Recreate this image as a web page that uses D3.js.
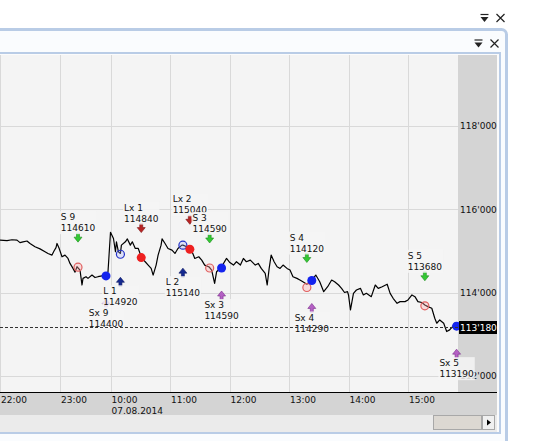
<!DOCTYPE html>
<html>
<head>
<meta charset="utf-8">
<script src="https://cdn.jsdelivr.net/npm/d3@7"></script>
<style>
  body { margin: 0; background: #fff; }
  svg { display: block; font-family: "DejaVu Sans", Verdana, sans-serif; font-size: 9px; }
</style>
</head>
<body>
<svg id="chart" width="539" height="441"></svg>
<script>
const priceTimes = [
  "22:00", "22:07", "22:12", "22:17", "22:20", "22:23", "22:27", "22:30", "22:35", "22:40",
  "22:45", "22:48", "22:52", "22:54", "22:56", "22:57", "22:59", "23:02", "23:05", "23:08",
  "23:10", "23:13", "23:15", "23:17", "23:20", "23:22", "23:23", "23:26", "23:28", "23:32",
  "23:35", "23:38", "23:42", "23:46", "23:48",
  "10:00", "10:03", "10:05", "10:06", "10:08", "10:10", "10:11", "10:15", "10:17", "10:20",
  "10:22", "10:25", "10:28", "10:31", "10:35", "10:38", "10:41", "10:43", "10:46", "10:48",
  "10:51", "10:52", "10:55", "10:58", "11:02", "11:05", "11:08", "11:12", "11:13", "11:17",
  "11:20", "11:23", "11:25", "11:29", "11:32", "11:35", "11:39", "11:40", "11:42", "11:45",
  "11:47", "11:52", "11:57", "12:00", "12:04", "12:07", "12:11", "12:14", "12:17", "12:21",
  "12:26", "12:29", "12:32", "12:36", "12:38", "12:40", "12:42", "12:45", "12:48", "12:51",
  "12:54", "12:58", "13:01", "13:04", "13:08", "13:11", "13:14", "13:18", "13:23", "13:27",
  "13:31", "13:35", "13:39", "13:43", "13:46", "13:50", "13:53", "13:56", "13:59", "14:00",
  "14:02", "14:05", "14:08", "14:12", "14:15", "14:18", "14:23", "14:27", "14:30", "14:34",
  "14:39", "14:42", "14:45", "14:49", "14:52", "14:57", "15:00", "15:04", "15:07", "15:10",
  "15:14", "15:17", "15:20", "15:24", "15:27", "15:29", "15:32", "15:36", "15:39", "15:42",
  "15:45", "15:47", "15:49"
];
const priceValues = [
  115260, 115250, 115270, 115260, 115200, 115220, 115240, 115180, 115100, 115050,
  114980, 114940, 114900, 115000, 115080, 115180, 115070, 114860, 114900, 114820,
  114700, 114580, 114490, 114620, 114540, 114180, 114340, 114380, 114340, 114420,
  114360, 114380, 114400, 114400, 114500,
  115450, 115300, 114980, 115220, 114980, 114940, 115140, 115220, 115290, 115140,
  115220, 115060, 115060, 114860, 114740, 114660, 114580, 114420, 114660, 114900,
  115140, 115290, 115180, 115060, 115020, 114940, 115060, 115140, 115140, 115100,
  115050, 114940, 114820, 114860, 114780, 114660, 114620, 114600, 114540, 114220,
  114500, 114620, 114820, 114730, 114660, 114740, 114660, 114820, 114740, 114780,
  114660, 114700, 114580, 114460, 114180, 114580, 114900, 114740, 114620, 114580,
  114660, 114580, 114540, 114380, 114340, 114300, 114260, 114200, 114300, 114420,
  114260, 114020, 114140, 114300, 114260, 114180, 114100, 114000, 114020, 113940,
  113580, 113980, 114060, 114100, 113940, 113980, 113900, 114180, 114100, 114140,
  114200, 113980, 113860, 113740, 113780, 113780, 113820, 113940, 113900, 113780,
  113760, 113700, 113660, 113620, 113380, 113260, 113340, 113260, 113060, 113100,
  113180, 113260, 113180
];

const tradeNames = ["S 9", "Sx 9", "L 1", "Lx 1", "L 2", "Lx 2", "S 3", "Sx 3", "S 4", "Sx 4", "S 5", "Sx 5"];
const tradeTypes = ["S", "Sx", "L", "Lx", "L", "Lx", "S", "Sx", "S", "Sx", "S", "Sx"];
const tradeTimes = ["23:18", "23:46", "10:10", "10:31", "11:13", "11:20", "11:40", "11:52", "13:18", "13:23", "15:17", "15:49"];
const tradePrices = [114610, 114400, 114920, 114840, 115140, 115040, 114590, 114590, 114120, 114290, 113680, 113190];

const xTickTimes = ["22:00", "23:00", "10:00", "11:00", "12:00", "13:00", "14:00", "15:00"];
const dateLabel = "07.08.2014";
const yTicks = [112000, 114000, 116000, 118000];
const lastPrice = 113180;

// evening bars belong to 06.08, the rest to 07.08
const parse = d3.timeParse("%Y-%m-%d %H:%M");
const toDate = t => parse((+t.slice(0, 2) >= 18 ? "2014-08-06 " : "2014-08-07 ") + t);

const svg = d3.select("#chart");
const plot = {left: 0, right: 458, top: 55, bottom: 392.5};
const axisRight = 497;
const bg = "#f4f4f4";
const frame = "#b9cce6";

// session gap is squeezed out of the time axis
const x = d3.scaleTime()
  .domain([toDate("22:00"), toDate("23:50"), toDate("10:00"), toDate("15:00")])
  .range([0, 110, 110.5, 408]);
const y = d3.scaleLinear().domain([112000, 118000]).range([375.6, 126.3]);
const fmt = v => d3.format(",")(v).replace(/,/g, "'");

// window frames
svg.append("rect")
  .attr("x", -10).attr("y", 29.5).attr("width", 516.5).attr("height", 480).attr("rx", 5)
  .attr("fill", "#fafcfe").attr("stroke", frame).attr("stroke-width", 3);
svg.append("rect")
  .attr("x", -10).attr("y", 53).attr("width", 510).attr("height", 380)
  .attr("fill", "#fbfbfb").attr("stroke", frame).attr("stroke-width", 2);

function drawIcons(x0, y0) {
  const g = svg.append("g").attr("transform", `translate(${x0},${y0})`);
  g.append("path").attr("d", "M0,0.5H8").attr("stroke", "#222").attr("stroke-width", 1.2);
  g.append("path").attr("d", "M0,3H8L4,8Z").attr("fill", "#222");
  g.append("path").attr("d", "M16,0L24,8M24,0L16,8").attr("stroke", "#222").attr("stroke-width", 1.2);
}
drawIcons(480.5, 14);
drawIcons(474.5, 39.5);

// plot background and right axis band
svg.append("rect")
  .attr("x", 0).attr("y", plot.top).attr("width", plot.right).attr("height", plot.bottom - plot.top)
  .attr("fill", bg);
svg.append("rect")
  .attr("x", plot.right).attr("y", plot.top).attr("width", axisRight - plot.right).attr("height", plot.bottom - plot.top)
  .attr("fill", "#d4d4d4");

// grid
svg.append("g")
  .selectAll("line")
  .data(xTickTimes)
  .join("line")
  .attr("x1", d => Math.round(x(toDate(d))) + 0.5)
  .attr("x2", d => Math.round(x(toDate(d))) + 0.5)
  .attr("y1", plot.top)
  .attr("y2", plot.bottom)
  .attr("stroke", "#d9d9d9");
svg.append("g")
  .selectAll("line")
  .data(yTicks)
  .join("line")
  .attr("x1", 0)
  .attr("x2", plot.right)
  .attr("y1", d => Math.round(y(d)) + 0.5)
  .attr("y2", d => Math.round(y(d)) + 0.5)
  .attr("stroke", "#d9d9d9");

// price line
const data = priceTimes.map((t, i) => ({t: toDate(t), v: priceValues[i]}));
const clip = svg.append("clipPath").attr("id", "plotClip");
clip.append("rect").attr("x", 0).attr("y", plot.top).attr("width", plot.right).attr("height", plot.bottom - plot.top);

const line = d3.line().x(d => x(d.t)).y(d => y(d.v));
svg.append("path")
  .datum(data)
  .attr("clip-path", "url(#plotClip)")
  .attr("d", line)
  .attr("fill", "none")
  .attr("stroke", "#000")
  .attr("stroke-width", 1.2)
  .attr("stroke-linejoin", "round");

// y axis labels
svg.append("g")
  .selectAll("text")
  .data(yTicks)
  .join("text")
  .attr("x", plot.right + 2)
  .attr("y", d => y(d))
  .attr("dy", "0.35em")
  .attr("fill", "#111")
  .text(fmt);

// trades
const styles = {
  S: {dot: false, stroke: "#e06060", fill: "rgba(255,170,170,0.35)", dir: "down", arrow: "#33c833", arrowEdge: "#1c8c1c"},
  Lx: {dot: true, stroke: "#ee2020", fill: "#ee2020", dir: "down", arrow: "#b82424", arrowEdge: "#7a1010"},
  L: {dot: false, stroke: "#2232c8", fill: "rgba(170,180,255,0.3)", dir: "up", arrow: "#152a90", arrowEdge: "#0a1460"},
  Sx: {dot: true, stroke: "#1424ee", fill: "#1424ee", dir: "up", arrow: "#b460c4", arrowEdge: "#7a2a8a"}
};
const downArrow = "M-1.5,-9H1.5V-5H4L0,0L-4,-5H-1.5Z";
const upArrow = "M-1.5,9H1.5V5H4L0,0L-4,5H-1.5Z";

const trades = svg.append("g");
tradeNames.forEach((name, i) => {
  const s = styles[tradeTypes[i]];
  const cx = x(toDate(tradeTimes[i]));
  const cy = y(tradePrices[i]);
  const g = trades.append("g");

  g.append("circle")
    .attr("cx", cx).attr("cy", cy).attr("r", s.dot ? 4.5 : 4)
    .attr("fill", s.fill).attr("stroke", s.stroke).attr("stroke-width", s.dot ? 0 : 1.2);

  const tip = s.dir === "down" ? cy - 25 : cy + 23;
  g.append("path")
    .attr("transform", `translate(${cx},${tip})`)
    .attr("d", s.dir === "down" ? downArrow : upArrow)
    .attr("fill", s.arrow).attr("stroke", s.arrowEdge).attr("stroke-width", 0.6);

  const nameY = s.dir === "down" ? tip - 25 : tip + 14;
  const numY = nameY + 11;
  const box = g.append("rect").attr("fill", bg).attr("fill-opacity", 0.85);
  const t1 = g.append("text").attr("y", nameY).attr("dy", "0.35em").attr("fill", "#111").text(name);
  const t2 = g.append("text").attr("y", numY).attr("dy", "0.35em").attr("fill", "#111").text(tradePrices[i]);
  const w = Math.max(t1.node().getComputedTextLength(), t2.node().getComputedTextLength());
  const left = cx - w / 2;
  t1.attr("x", left);
  t2.attr("x", left);
  box.attr("x", left - 1).attr("y", nameY - 6).attr("width", w + 2).attr("height", 23);
});

// last price line and tag
const ly = Math.round(y(lastPrice)) + 0.5;
svg.append("line")
  .attr("x1", 0).attr("x2", plot.right).attr("y1", ly).attr("y2", ly)
  .attr("stroke", "#333").attr("stroke-dasharray", "3,2");
svg.append("rect")
  .attr("x", plot.right + 1).attr("y", ly - 6.5).attr("width", axisRight - plot.right - 1).attr("height", 13)
  .attr("fill", "#000");
svg.append("text")
  .attr("x", plot.right + 2).attr("y", ly).attr("dy", "0.35em")
  .attr("fill", "#fff")
  .text(fmt(lastPrice));

// time axis
svg.append("rect")
  .attr("x", 0).attr("y", plot.bottom).attr("width", axisRight).attr("height", 22.5)
  .attr("fill", "#d4d4d4");
svg.append("line")
  .attr("x1", 0).attr("x2", axisRight).attr("y1", plot.bottom).attr("y2", plot.bottom)
  .attr("stroke", "#000").attr("stroke-width", 1.2);
svg.append("g")
  .selectAll("text")
  .data(xTickTimes)
  .join("text")
  .attr("x", d => Math.max(0, x(toDate(d)) + 1))
  .attr("y", 399.5)
  .attr("dy", "0.35em")
  .attr("fill", "#111")
  .text(d => d);
svg.append("text")
  .attr("x", x(toDate("10:00")) + 1).attr("y", 410.5).attr("dy", "0.35em")
  .attr("fill", "#111")
  .text(dateLabel);

// scroll bar
svg.append("rect")
  .attr("x", 0).attr("y", 415).attr("width", axisRight).attr("height", 17)
  .attr("fill", "#ebebeb");
svg.append("rect")
  .attr("x", 433.5).attr("y", 415.5).attr("width", 48).attr("height", 14)
  .attr("fill", "#dcd8d2").attr("stroke", "#a8a8a8");
svg.append("rect")
  .attr("x", 482.5).attr("y", 415.5).attr("width", 12).attr("height", 14)
  .attr("fill", "#f0f0f0").attr("stroke", "#a8a8a8");
svg.append("path").attr("d", "M487,419.5L491,422.5L487,425.5Z").attr("fill", "#000");
</script>
</body>
</html>
